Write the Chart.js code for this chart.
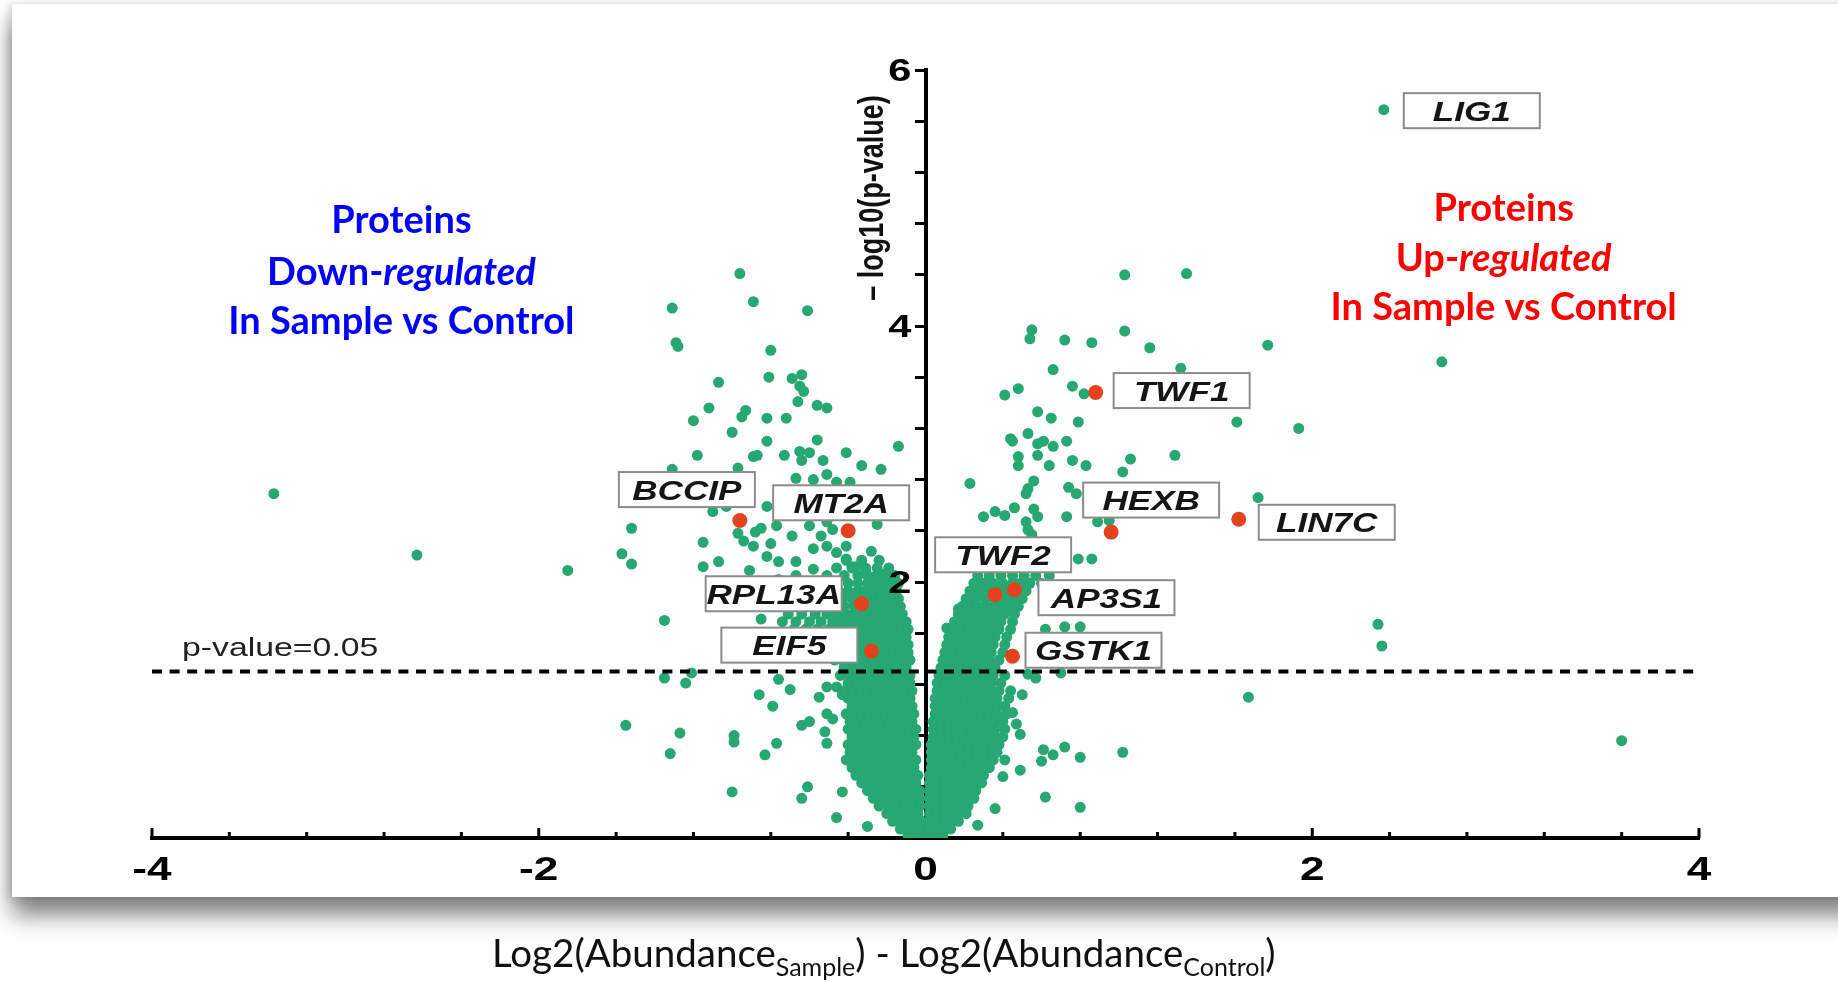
<!DOCTYPE html>
<html lang="en">
<head>
  <meta charset="UTF-8" />
  <title>Volcano Plot - Sample vs Control</title>
  <script src="https://cdn.jsdelivr.net/npm/chart.js@4.4.0/dist/chart.umd.min.js"></script>
  <style>
    html, body {
      margin: 0;
      padding: 0;
      width: 1838px;
      height: 982px;
      overflow: hidden;
      background: #fff;
    }
    .card {
      position: absolute;
      left: 12px;
      top: 4px;
      width: 1900px;
      height: 893px;
      background: #fff;
      box-shadow: 0 18px 22px rgba(0, 0, 0, 0.5), -4px 0 8px rgba(0, 0, 0, 0.12);
    }
    #volcano {
      position: absolute;
      left: 0;
      top: 0;
    }
    .x-title {
      position: absolute;
      left: 492px;
      top: 927px;
      font-family: Lato, 'Open Sans', sans-serif;
      font-size: 38.5px;
      line-height: 50px;
      color: #111;
      white-space: nowrap;
    }
    .x-title sub {
      font-size: 25px;
      line-height: 0;
      vertical-align: -0.35em;
    }
  </style>
</head>
<body>
  <div class="card"></div>
  <canvas id="volcano" width="1838" height="982"></canvas>
  <div class="x-title">Log2(Abundance<sub>Sample</sub>) - Log2(Abundance<sub>Control</sub>)</div>

  <script>
    // ---- data: log2 fold change (x) and -log10 p-value (y) ----

    // scattered proteins, down side
    const scatterDown = [
      [-3.37, 2.69], [-2.63, 2.21], [-1.85, 2.09],
      [-0.96, 4.41], [-0.89, 4.19], [-1.31, 4.14], [-0.61, 4.12], [-1.29, 3.87], [-1.28, 3.84], [-0.80, 3.81],
      [-1.07, 3.56], [-0.81, 3.60], [-0.69, 3.59], [-0.64, 3.62], [-0.65, 3.53], [-0.63, 3.49],
      [-1.12, 3.36], [-0.66, 3.41], [-0.56, 3.38], [-0.51, 3.36], [-1.20, 3.26], [-0.93, 3.34], [-0.95, 3.29],
      [-0.82, 3.28], [-0.72, 3.28], [-1.00, 3.17], [-0.82, 3.10], [-0.56, 3.11], [-0.14, 3.06],
      [-1.18, 2.99], [-0.89, 2.98], [-0.87, 2.99], [-0.73, 2.99], [-0.65, 3.02], [-0.60, 3.01], [-0.64, 2.95],
      [-0.53, 2.95], [-0.41, 3.01], [-0.33, 2.91], [-0.23, 2.88], [-1.31, 2.88], [-0.97, 2.89],
      [-0.67, 2.81], [-0.58, 2.80], [-0.51, 2.84], [-0.46, 2.78], [-0.39, 2.78],
      [-1.10, 2.55], [-1.03, 2.59], [-0.82, 2.59], [-1.52, 2.42], [-0.97, 2.38], [-0.94, 2.32], [-0.88, 2.39],
      [-0.85, 2.42], [-0.77, 2.44], [-0.69, 2.36], [-0.80, 2.30], [-0.60, 2.44], [-0.51, 2.47], [-0.48, 2.41],
      [-0.54, 2.36], [-0.25, 2.45], [-1.15, 2.31], [-1.57, 2.22], [-1.52, 2.14], [-1.07, 2.16], [-1.15, 2.12],
      [-0.91, 2.09], [-0.38, 2.12], [-0.31, 2.08], [-0.24, 2.05], [-0.28, 2.24], [-0.76, 2.16], [-0.67, 2.16],
      [-0.58, 2.10], [-0.51, 2.28], [-0.46, 2.23], [-0.58, 2.26], [-0.41, 2.28], [-0.41, 2.18], [-0.36, 2.12],
      [-0.27, 2.04], [-0.22, 2.06], [-0.17, 2.02], [-0.82, 2.20], [-0.89, 2.28], [-0.76, 2.02], [-0.67, 2.05],
      [-1.35, 1.70], [-0.85, 1.71], [-1.35, 1.25], [-1.24, 1.21], [-1.21, 1.29], [-0.86, 1.12], [-0.79, 1.03],
      [-0.70, 1.16], [-0.76, 1.24], [-1.55, 0.88], [-1.27, 0.82], [-1.32, 0.66], [-0.99, 0.80], [-0.99, 0.75],
      [-0.77, 0.74], [-0.83, 0.65], [-0.64, 0.88], [-0.60, 0.91], [-0.52, 0.83], [-0.51, 0.74], [-0.51, 0.97],
      [-0.48, 0.93], [-1.00, 0.36], [-0.61, 0.40], [-0.64, 0.31], [-0.43, 0.36], [-0.46, 0.16], [-0.30, 0.09],
      [-0.55, 1.10], [-0.51, 1.18], [-0.46, 1.18], [-0.43, 1.12]
    ];

    // scattered proteins, up side
    const scatterUp = [
      [2.67, 3.72], [2.34, 1.67], [2.36, 1.50], [3.60, 0.76], [1.67, 1.10],
      [1.03, 4.40], [1.35, 4.41], [0.55, 3.97], [0.54, 3.90], [0.72, 3.89], [0.86, 3.87], [1.03, 3.96],
      [1.16, 3.83], [1.77, 3.85], [1.32, 3.67], [0.66, 3.66], [0.48, 3.51], [0.41, 3.46], [0.76, 3.53],
      [0.82, 3.47], [0.58, 3.33], [0.65, 3.28], [0.79, 3.25], [1.61, 3.25], [1.93, 3.20], [0.44, 3.12],
      [0.45, 3.10], [0.53, 3.16], [0.61, 3.10], [0.58, 3.08], [0.66, 3.06], [0.73, 3.10], [0.48, 2.98],
      [0.48, 2.91], [0.58, 2.99], [0.64, 2.91], [0.76, 2.95], [0.83, 2.91], [1.06, 2.96], [1.02, 2.86],
      [1.29, 2.99], [0.23, 2.77], [0.56, 2.79], [0.53, 2.73], [0.52, 2.69], [0.74, 2.74], [0.78, 2.69],
      [1.72, 2.66], [0.89, 2.47], [0.95, 2.48], [0.73, 2.51], [0.30, 2.51], [0.36, 2.55], [0.41, 2.52],
      [0.46, 2.58], [0.56, 2.57], [0.58, 2.51], [0.52, 2.47], [0.53, 2.41], [0.55, 2.37], [0.79, 2.18], [0.86, 2.18],
      [0.11, 1.64], [0.17, 1.79], [0.24, 1.85], [0.62, 1.63], [0.72, 1.65], [0.80, 1.65], [0.70, 1.29],
      [0.61, 0.69], [0.66, 0.65], [0.60, 0.60], [0.72, 0.71], [0.80, 0.63], [1.02, 0.67], [0.62, 0.32],
      [0.80, 0.24], [0.49, 0.53], [0.40, 0.48], [0.41, 0.61], [0.36, 0.23], [0.27, 0.10], [0.57, 1.25],
      [0.53, 1.28], [0.47, 0.89], [0.49, 0.81], [0.45, 0.98], [0.50, 1.12]
    ];

    // crowded core near zero fold change: each row is [y, x, x, ...]
    const denseDown = [
      [0.02, -0.09, -0.05, -0.02],
      [0.07, -0.13, -0.09, -0.05, -0.02],
      [0.13, -0.17, -0.13, -0.09, -0.05, -0.02],
      [0.19, -0.20, -0.16, -0.12, -0.08, -0.04],
      [0.25, -0.24, -0.19, -0.15, -0.11, -0.07, -0.03],
      [0.31, -0.27, -0.23, -0.19, -0.15, -0.11, -0.07, -0.03],
      [0.37, -0.30, -0.26, -0.22, -0.18, -0.14, -0.10, -0.06, -0.03],
      [0.43, -0.33, -0.29, -0.25, -0.21, -0.17, -0.13, -0.09, -0.05],
      [0.49, -0.36, -0.32, -0.28, -0.24, -0.20, -0.16, -0.12, -0.08, -0.04],
      [0.55, -0.38, -0.34, -0.30, -0.26, -0.22, -0.18, -0.14, -0.10, -0.06],
      [0.61, -0.41, -0.37, -0.33, -0.29, -0.25, -0.21, -0.17, -0.13, -0.09, -0.05],
      [0.67, -0.39, -0.35, -0.31, -0.27, -0.23, -0.19, -0.15, -0.11, -0.07],
      [0.73, -0.40, -0.36, -0.32, -0.28, -0.24, -0.20, -0.16, -0.12, -0.08, -0.05],
      [0.79, -0.38, -0.34, -0.30, -0.26, -0.22, -0.18, -0.14, -0.10, -0.06],
      [0.85, -0.40, -0.36, -0.32, -0.28, -0.24, -0.20, -0.16, -0.12, -0.08, -0.05],
      [0.91, -0.39, -0.35, -0.31, -0.27, -0.23, -0.19, -0.15, -0.11, -0.07],
      [0.97, -0.41, -0.37, -0.33, -0.29, -0.25, -0.21, -0.17, -0.13, -0.09, -0.06],
      [1.03, -0.38, -0.34, -0.30, -0.26, -0.22, -0.18, -0.14, -0.10, -0.07],
      [1.09, -0.40, -0.36, -0.32, -0.28, -0.24, -0.20, -0.16, -0.12, -0.08],
      [1.15, -0.42, -0.38, -0.34, -0.30, -0.26, -0.22, -0.18, -0.14, -0.10, -0.07],
      [1.21, -0.40, -0.36, -0.32, -0.28, -0.24, -0.20, -0.16, -0.12, -0.08],
      [1.27, -0.44, -0.39, -0.35, -0.31, -0.27, -0.23, -0.19, -0.15, -0.11, -0.08],
      [1.33, -0.42, -0.38, -0.34, -0.30, -0.26, -0.22, -0.18, -0.14, -0.10],
      [1.39, -0.47, -0.43, -0.39, -0.35, -0.31, -0.27, -0.23, -0.19, -0.15, -0.11, -0.08],
      [1.45, -0.50, -0.45, -0.41, -0.37, -0.33, -0.29, -0.25, -0.21, -0.17, -0.13, -0.09],
      [1.51, -0.54, -0.49, -0.44, -0.40, -0.36, -0.32, -0.28, -0.24, -0.20, -0.16, -0.12, -0.09],
      [1.57, -0.60, -0.55, -0.50, -0.46, -0.42, -0.38, -0.34, -0.30, -0.26, -0.22, -0.18, -0.14, -0.10],
      [1.63, -0.68, -0.62, -0.56, -0.50, -0.45, -0.40, -0.36, -0.32, -0.28, -0.24, -0.20, -0.16, -0.12, -0.09],
      [1.69, -0.74, -0.67, -0.60, -0.54, -0.48, -0.43, -0.38, -0.34, -0.30, -0.26, -0.22, -0.18, -0.14, -0.10],
      [1.75, -0.71, -0.64, -0.57, -0.51, -0.46, -0.41, -0.36, -0.32, -0.28, -0.24, -0.20, -0.16, -0.12],
      [1.81, -0.67, -0.60, -0.53, -0.47, -0.42, -0.37, -0.33, -0.29, -0.25, -0.21, -0.17, -0.13],
      [1.87, -0.63, -0.56, -0.49, -0.43, -0.38, -0.34, -0.30, -0.26, -0.22, -0.18, -0.14],
      [1.93, -0.60, -0.52, -0.45, -0.40, -0.35, -0.31, -0.27, -0.23, -0.19, -0.15],
      [1.99, -0.55, -0.47, -0.40, -0.35, -0.30, -0.26, -0.22, -0.18, -0.14],
      [2.05, -0.51, -0.42, -0.35, -0.30, -0.25, -0.20, -0.16],
      [2.11, -0.46, -0.38, -0.31, -0.25, -0.19],
      [2.17, -0.41, -0.33, -0.24]
    ];

    const denseUp = [
      [0.02, 0.01, 0.05, 0.09],
      [0.07, 0.02, 0.06, 0.10, 0.13],
      [0.13, 0.02, 0.06, 0.10, 0.14, 0.17],
      [0.19, 0.02, 0.06, 0.10, 0.14, 0.18, 0.21],
      [0.25, 0.02, 0.06, 0.10, 0.14, 0.18, 0.22],
      [0.31, 0.02, 0.06, 0.10, 0.14, 0.18, 0.22, 0.25],
      [0.37, 0.02, 0.06, 0.10, 0.14, 0.18, 0.22, 0.26],
      [0.43, 0.02, 0.06, 0.10, 0.14, 0.18, 0.22, 0.26, 0.29],
      [0.49, 0.02, 0.06, 0.10, 0.14, 0.18, 0.22, 0.26, 0.30],
      [0.55, 0.03, 0.07, 0.11, 0.15, 0.19, 0.23, 0.27, 0.31, 0.33],
      [0.61, 0.03, 0.07, 0.11, 0.15, 0.19, 0.23, 0.27, 0.31, 0.35],
      [0.67, 0.03, 0.07, 0.11, 0.15, 0.19, 0.23, 0.27, 0.31, 0.35, 0.37],
      [0.73, 0.03, 0.07, 0.11, 0.15, 0.19, 0.23, 0.27, 0.31, 0.35, 0.38],
      [0.79, 0.04, 0.08, 0.12, 0.16, 0.20, 0.24, 0.28, 0.32, 0.36, 0.40],
      [0.85, 0.04, 0.08, 0.12, 0.16, 0.20, 0.24, 0.28, 0.32, 0.36, 0.41],
      [0.91, 0.04, 0.08, 0.12, 0.16, 0.20, 0.24, 0.28, 0.32, 0.36, 0.40],
      [0.97, 0.05, 0.09, 0.13, 0.17, 0.21, 0.25, 0.29, 0.33, 0.37, 0.42],
      [1.03, 0.05, 0.09, 0.13, 0.17, 0.21, 0.25, 0.29, 0.33, 0.37, 0.41],
      [1.09, 0.05, 0.09, 0.13, 0.17, 0.21, 0.25, 0.29, 0.33, 0.37, 0.43],
      [1.15, 0.06, 0.10, 0.14, 0.18, 0.22, 0.26, 0.30, 0.34, 0.38, 0.44],
      [1.21, 0.06, 0.10, 0.14, 0.18, 0.22, 0.26, 0.30, 0.34, 0.39],
      [1.27, 0.07, 0.11, 0.15, 0.19, 0.23, 0.27, 0.31, 0.35, 0.41],
      [1.33, 0.08, 0.12, 0.16, 0.20, 0.24, 0.28, 0.32, 0.36],
      [1.39, 0.09, 0.13, 0.17, 0.21, 0.25, 0.29, 0.33, 0.38],
      [1.45, 0.10, 0.14, 0.18, 0.22, 0.26, 0.30, 0.34, 0.40],
      [1.51, 0.11, 0.15, 0.19, 0.23, 0.27, 0.31, 0.35, 0.41],
      [1.57, 0.12, 0.16, 0.20, 0.24, 0.28, 0.32, 0.36, 0.42],
      [1.63, 0.14, 0.18, 0.22, 0.26, 0.30, 0.34, 0.38, 0.44],
      [1.69, 0.15, 0.19, 0.23, 0.27, 0.31, 0.35, 0.39, 0.45],
      [1.75, 0.17, 0.21, 0.25, 0.29, 0.33, 0.37, 0.41, 0.46],
      [1.81, 0.19, 0.23, 0.27, 0.31, 0.35, 0.39, 0.43, 0.48],
      [1.87, 0.21, 0.26, 0.31, 0.36, 0.41, 0.45, 0.50],
      [1.93, 0.23, 0.28, 0.33, 0.38, 0.43, 0.47, 0.52],
      [1.99, 0.25, 0.30, 0.35, 0.40, 0.45, 0.49, 0.54, 0.60],
      [2.05, 0.27, 0.33, 0.39, 0.45, 0.51, 0.57, 0.64],
      [2.11, 0.29, 0.36, 0.43, 0.50, 0.58],
      [2.17, 0.31, 0.39, 0.47],
      [2.23, 0.35, 0.44]
    ];

    // labelled proteins
    const hitNames = ['LIG1', 'TWF1', 'HEXB', 'LIN7C', 'TWF2', 'AP3S1', 'GSTK1', 'BCCIP', 'MT2A', 'RPL13A', 'EIF5'];
    const hitX = [2.37, 0.88, 0.96, 1.62, 0.36, 0.46, 0.45, -0.96, -0.40, -0.33, -0.28];
    const hitY = [5.69, 3.48, 2.39, 2.49, 1.90, 1.94, 1.42, 2.48, 2.40, 1.83, 1.46];
    const hitMarked = [false, true, true, true, true, true, true, true, true, true, true];

    const pCutoff = 0.05;
    const xTickStep = 0.4;
    const yTickStep = 0.4;

    // ---- look ----
    const GREEN = '#27a771';
    const RED = '#e4421d';
    const AXIS = '#000';
    const SANS = "'Liberation Sans', Arial, sans-serif";
    const NOTE_FONT = "Lato, 'Open Sans', sans-serif";
    const STRETCH = 1.3; // the plot text is set wide

    // label box centre, pixels from its point
    const boxOffset = {
      LIG1: [88, 1], TWF1: [86, -2], HEXB: [40, -32], LIN7C: [88, 3], TWF2: [8, -40],
      AP3S1: [92, 8], GSTK1: [81, -6], BCCIP: [-53, -31], MT2A: [-7, -28], RPL13A: [-88, -10], EIF5: [-82, -6]
    };

    const notes = [
      { color: '#0000ff', x: -2.71, lines: [
        { y: 4.73, runs: [{ text: 'Proteins' }] },
        { y: 4.32, runs: [{ text: 'Down-' }, { text: 'regulated', italic: true }] },
        { y: 3.94, runs: [{ text: 'In Sample vs Control' }] }
      ] },
      { color: '#ff0000', x: 2.99, lines: [
        { y: 4.82, runs: [{ text: 'Proteins' }] },
        { y: 4.43, runs: [{ text: 'Up-' }, { text: 'regulated', italic: true }] },
        { y: 4.05, runs: [{ text: 'In Sample vs Control' }] }
      ] }
    ];

    // ---- build points ----
    const toPoint = ([x, y]) => ({ x, y });
    function rowsToPoints(rows) {
      const pts = [];
      rows.forEach(([y, ...xs]) => xs.forEach(x => pts.push({ x, y })));
      return pts;
    }

    const greenPoints = [
      ...scatterDown.map(toPoint),
      ...scatterUp.map(toPoint),
      ...rowsToPoints(denseDown),
      ...rowsToPoints(denseUp)
    ];
    const redPoints = [];
    hitNames.forEach((name, i) => {
      const p = { x: hitX[i], y: hitY[i], name };
      (hitMarked[i] ? redPoints : greenPoints).push(p);
    });

    function wideText(ctx, text, x, y, align) {
      ctx.save();
      ctx.translate(x, y);
      ctx.scale(STRETCH, 1);
      ctx.textAlign = align;
      ctx.fillText(text, 0, 0);
      ctx.restore();
    }

    const isMultiple = (v, m) => Math.abs(v / m - Math.round(v / m)) < 1e-6;

    const volcanoDecor = {
      id: 'volcanoDecor',
      beforeDatasetsDraw(chart) {
        const { ctx, scales: { x, y } } = chart;
        const y0 = y.getPixelForValue(0);
        // x ticks point up into the plot
        ctx.save();
        ctx.strokeStyle = AXIS;
        ctx.lineWidth = 3;
        x.ticks.forEach(t => {
          const px = x.getPixelForValue(t.value);
          const len = isMultiple(t.value, 2) ? 10 : 6;
          ctx.beginPath();
          ctx.moveTo(px, y0);
          ctx.lineTo(px, y0 - len);
          ctx.stroke();
        });
        ctx.restore();
      },
      afterDatasetsDraw(chart) {
        const { ctx, chartArea, scales: { x, y } } = chart;
        const x0 = x.getPixelForValue(0);
        const y0 = y.getPixelForValue(0);

        // significance cut-off
        const yCut = y.getPixelForValue(-Math.log10(pCutoff));
        ctx.save();
        ctx.strokeStyle = AXIS;
        ctx.lineWidth = 4;
        ctx.setLineDash([10, 7.6]);
        ctx.beginPath();
        ctx.moveTo(chartArea.left, yCut);
        ctx.lineTo(chartArea.right, yCut);
        ctx.stroke();
        ctx.setLineDash([]);
        ctx.fillStyle = '#222';
        ctx.font = `26px ${SANS}`;
        ctx.textBaseline = 'alphabetic';
        wideText(ctx, 'p-value=' + pCutoff, chartArea.left + 30, yCut - 15, 'left');
        ctx.restore();

        // tick labels
        ctx.save();
        ctx.fillStyle = AXIS;
        ctx.textBaseline = 'alphabetic';
        ctx.font = `bold 34px ${SANS}`;
        x.ticks.forEach(t => {
          if (isMultiple(t.value, 2)) {
            wideText(ctx, String(Math.round(t.value)), x.getPixelForValue(t.value), y0 + 42, 'center');
          }
        });
        ctx.font = `bold 32px ${SANS}`;
        y.ticks.forEach(t => {
          if (t.value > 0 && isMultiple(t.value, 2)) {
            wideText(ctx, String(Math.round(t.value)), x0 - 14, y.getPixelForValue(t.value) + 11, 'right');
          }
        });

        // y axis title, upright along the axis
        ctx.font = `bold 27px ${SANS}`;
        ctx.fillStyle = '#111';
        ctx.translate(x0 - 52, y.getPixelForValue(5.0));
        ctx.scale(STRETCH, 1);
        ctx.rotate(-Math.PI / 2);
        ctx.textAlign = 'center';
        ctx.textBaseline = 'middle';
        ctx.fillText('\u2013 log10(p-value)', 0, 0);
        ctx.restore();

        // label boxes for the named proteins
        ctx.save();
        ctx.font = `italic bold 27px ${SANS}`;
        ctx.textBaseline = 'alphabetic';
        hitNames.forEach((name, i) => {
          const [dx, dy] = boxOffset[name];
          const cx = x.getPixelForValue(hitX[i]) + dx;
          const cy = y.getPixelForValue(hitY[i]) + dy;
          const w = 136, h = 35;
          ctx.fillStyle = '#fff';
          ctx.fillRect(cx - w / 2, cy - h / 2, w, h);
          ctx.strokeStyle = '#8c8c8c';
          ctx.lineWidth = 2;
          ctx.strokeRect(cx - w / 2, cy - h / 2, w, h);
          ctx.fillStyle = '#151515';
          wideText(ctx, name, cx, cy + 10, 'center');
        });
        ctx.restore();

        // direction notes
        ctx.save();
        ctx.textBaseline = 'alphabetic';
        ctx.textAlign = 'left';
        notes.forEach(note => {
          const cx = x.getPixelForValue(note.x);
          ctx.fillStyle = note.color;
          note.lines.forEach(line => {
            const fonts = line.runs.map(r => `${r.italic ? 'italic ' : ''}bold 38px ${NOTE_FONT}`);
            const widths = line.runs.map((r, i) => { ctx.font = fonts[i]; return ctx.measureText(r.text).width; });
            let px = cx - widths.reduce((a, b) => a + b, 0) / 2;
            const py = y.getPixelForValue(line.y);
            line.runs.forEach((r, i) => {
              ctx.font = fonts[i];
              ctx.fillText(r.text, px, py);
              px += widths[i];
            });
          });
        });
        ctx.restore();
      }
    };

    new Chart(document.getElementById('volcano'), {
      type: 'scatter',
      data: {
        datasets: [
          {
            label: 'Proteins',
            data: greenPoints,
            backgroundColor: GREEN,
            borderWidth: 0,
            pointRadius: 5.5,
            pointHoverRadius: 5.5,
            order: 2
          },
          {
            label: 'Named proteins',
            data: redPoints,
            backgroundColor: RED,
            borderWidth: 0,
            pointRadius: 7.5,
            pointHoverRadius: 7.5,
            order: 1
          }
        ]
      },
      options: {
        responsive: false,
        animation: false,
        devicePixelRatio: 1,
        layout: { padding: { left: 152, right: 139, top: 70, bottom: 124 } },
        plugins: {
          legend: { display: false },
          tooltip: { enabled: false }
        },
        scales: {
          x: {
            type: 'linear',
            position: 'bottom',
            min: -4,
            max: 4,
            ticks: { display: false, stepSize: xTickStep },
            grid: { display: false },
            border: { display: true, color: AXIS, width: 4 },
            afterFit(scale) { scale.height = 20; }
          },
          y: {
            type: 'linear',
            position: { x: 0 },
            min: 0,
            max: 6,
            ticks: { display: false, stepSize: yTickStep },
            grid: { display: true, drawOnChartArea: false, drawTicks: true, tickLength: 9, tickWidth: 3, tickColor: AXIS },
            border: { display: true, color: AXIS, width: 4 }
          }
        }
      },
      plugins: [volcanoDecor]
    });
  </script>
</body>
</html>
